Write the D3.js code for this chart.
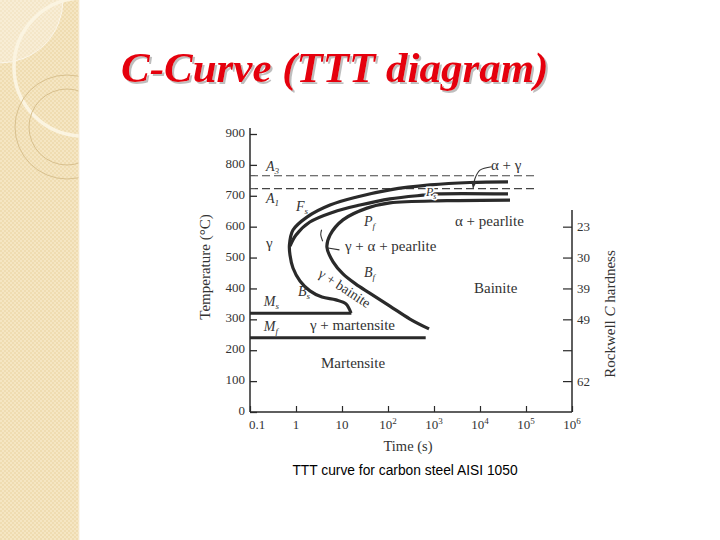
<!DOCTYPE html>
<html><head><meta charset="utf-8">
<script src="https://cdn.jsdelivr.net/npm/d3@7"></script>
<style>body{margin:0;background:#fff}svg{display:block}</style>
</head><body>
<svg id="c" width="720" height="540"></svg>
<script>
// ---------- data ----------
const slideTitle = "C-Curve (TTT diagram)";
const caption = "TTT curve for carbon steel AISI 1050";
const timeTicks = [0.1, 1, 10, 1e2, 1e3, 1e4, 1e5, 1e6];
const timeTickBase = ["0.1", "1", "10", "10", "10", "10", "10", "10"];
const timeTickExp = ["", "", "", "2", "3", "4", "5", "6"];
const tempTicks = [0, 100, 200, 300, 400, 500, 600, 700, 800, 900];
const hardnessTemps = [600, 500, 400, 300, 200, 100];
const hardnessLabels = ["23", "30", "39", "49", "", "62"];
const A3 = 765, A1 = 723, Ms = 320, Mf = 240;
const criticalEnd = 1.8e5;
const MsEnd = 16, MfEnd = 660;
// ferrite start / bainite start (outer C)
const curveFs = [[40600,745],[6000,743],[820,735],[110,719],[21,696],[5.5,670],[1.73,631],[0.86,589],[0.72,541],[0.74,508],[0.86,466],[1.22,424],[2.01,392],[3.67,372],[7.4,363],[12.2,350],[15.7,320]];
// pearlite start
const curvePs = [[40600,706],[1160,706],[577,702],[110,690],[24.6,670],[6.4,647],[2.0,615],[1.0,573],[0.74,537]];
// pearlite finish / bainite finish (inner C)
const curvePf = [[44900,686],[1920,684],[110,677],[35,660],[10.5,622],[5.5,573],[4.7,534],[6.4,486],[10.5,447],[20,414],[40,385],[110,343],[300,301],[780,269]];
const arrowAG = [[17950,794],[10000,783],[7780,756],[7100,726]];
const tickPf = [[3.6,590],[3.45,574],[3.8,553]];
const leaderGAP = [[4.96,531],[8.8,525]];
// labels: [text, subscript, time, temp, size, italic]
const labels = [
  ["A","3",0.223,780,14,true],
  ["A","1",0.223,676,14,true],
  ["F","s",1.0,651,14,true],
  ["P","f",30,602,14,true],
  ["P","s",670,699,12,true],
  ["B","s",1.1,376,14,true],
  ["B","f",30,437,14,true],
  ["M","s",0.2,343,14,true],
  ["M","f",0.2,262,14,true],
  ["γ","",0.223,531,15,false],
  ["α + γ","",17340,783,15,false],
  ["α + pearlite","",2862,602,15,false],
  ["γ + α + pearlite","",11.6,521,15,false],
  ["Bainite","",7400,385,15,false],
  ["γ + martensite","",2.01,265,15,false],
  ["Martensite","",3.49,142,15,false]
];
const rotatedLabel = ["γ + bainite", 10, 388, 33];

// ---------- drawing ----------
const svg = d3.select("#c");
const defs = svg.append("defs");
const pat = defs.append("pattern").attr("id","chk").attr("width",4).attr("height",4).attr("patternUnits","userSpaceOnUse");
pat.append("rect").attr("width",4).attr("height",4).attr("fill","#efdcb1");
pat.append("rect").attr("width",2).attr("height",2).attr("fill","#f5e6c3");
pat.append("rect").attr("x",2).attr("y",2).attr("width",2).attr("height",2).attr("fill","#f5e6c3");
defs.append("clipPath").attr("id","strip").append("rect").attr("width",79).attr("height",540);
defs.append("marker").attr("id","arr").attr("viewBox","0 0 10 10").attr("refX",9).attr("refY",5)
  .attr("markerWidth",6).attr("markerHeight",6).attr("orient","auto")
  .append("path").attr("d","M0,1 L10,5 L0,9 Z").attr("fill","#333");
const flt = defs.append("filter").attr("id","shadow").attr("x","-5%").attr("y","-20%").attr("width","110%").attr("height","140%");
flt.append("feDropShadow").attr("dx",2).attr("dy",2).attr("stdDeviation",0.6).attr("flood-color","#888").attr("flood-opacity",0.55);

svg.append("rect").attr("width",720).attr("height",540).attr("fill","#fff");
const strip = svg.append("g").attr("clip-path","url(#strip)");
strip.append("rect").attr("width",79).attr("height",540).attr("fill","url(#chk)");
strip.append("circle").attr("cx",0).attr("cy",0).attr("r",63).attr("fill","rgba(255,255,255,0.3)").attr("stroke","rgba(255,255,255,0.6)");
strip.append("circle").attr("cx",83).attr("cy",67).attr("r",69).attr("fill","none").attr("stroke","#fbf4e1").attr("stroke-width",3.5);
strip.append("circle").attr("cx",67).attr("cy",127).attr("r",52).attr("fill","none").attr("stroke","#d8c08e").attr("stroke-width",1);
strip.append("circle").attr("cx",67).attr("cy",127).attr("r",38).attr("fill","none").attr("stroke","#d8c08e").attr("stroke-width",1);
svg.append("line").attr("x1",79).attr("x2",79).attr("y1",0).attr("y2",540).attr("stroke","#f7eedb").attr("stroke-width",1);

// title
const tfont = "'Liberation Serif','Times New Roman',serif";
svg.append("text").attr("x",121).attr("y",82).text(slideTitle).attr("filter","url(#shadow)")
  .attr("font-family",tfont).attr("font-style","italic").attr("font-weight","bold").attr("font-size",43).attr("fill","#e5000c");

// scales
const x = d3.scaleLog().domain([0.1, 1e6]).range([250, 572]);
const y = d3.scaleLinear().domain([0, 900]).range([412, 134]);
const ink = "#2a2a2a", txt = "#333";
const g = svg.append("g").attr("font-family", tfont).attr("fill", txt);

// left axis
const yAxis = d3.axisRight(y).tickValues(tempTicks).tickSize(7).tickFormat(d3.format("d"));
const ya = g.append("g").attr("transform","translate(250,0)").call(yAxis);
ya.select(".domain").remove();
ya.selectAll(".tick line").attr("stroke",ink).attr("stroke-width",1.3);
ya.selectAll(".tick text").attr("x",-5).attr("dy","0.2em").attr("text-anchor","end").attr("font-size",13).attr("fill",txt).attr("font-family",tfont);
g.append("line").attr("x1",250).attr("x2",250).attr("y1",128).attr("y2",y(0)).attr("stroke",ink).attr("stroke-width",1.5);

// bottom axis
const xAxis = d3.axisTop(x).tickValues(timeTicks).tickSize(6).tickFormat("");
const xa = g.append("g").attr("transform",`translate(0,${y(0)})`).call(xAxis);
xa.select(".domain").remove();
xa.selectAll(".tick line").attr("stroke",ink).attr("stroke-width",1.2);
g.append("line").attr("x1",250).attr("x2",572).attr("y1",y(0)).attr("y2",y(0)).attr("stroke",ink).attr("stroke-width",1.5);
const xl = g.append("g").selectAll("text").data(timeTicks).join("text")
  .attr("x",(d,i)=>x(d) + (i===0 ? 7 : 0)).attr("y",y(0)+17).attr("text-anchor","middle").attr("font-size",13);
xl.append("tspan").text((d,i)=>timeTickBase[i]);
xl.append("tspan").attr("dy",-5).attr("font-size",9).text((d,i)=>timeTickExp[i]);

// right axis (hardness)
g.append("line").attr("x1",572).attr("x2",572).attr("y1",210).attr("y2",y(0)).attr("stroke",ink).attr("stroke-width",1.5);
const hr = d3.axisLeft(y).tickValues(hardnessTemps).tickSize(9).tickFormat((d,i)=>hardnessLabels[i]);
const ha = g.append("g").attr("transform","translate(572,0)").call(hr);
ha.select(".domain").remove();
ha.selectAll(".tick line").attr("stroke",ink).attr("stroke-width",1.2);
ha.selectAll(".tick text").attr("x",5).attr("text-anchor","start").attr("font-size",13).attr("fill",txt).attr("font-family",tfont);

// axis titles
g.append("text").attr("transform","translate(210,267) rotate(-90)").attr("text-anchor","middle").attr("font-size",15).text("Temperature (°C)");
const rt = g.append("text").attr("transform","translate(615,314) rotate(-90)").attr("text-anchor","middle").attr("font-size",15);
rt.append("tspan").text("Rockwell ");
rt.append("tspan").attr("font-style","italic").text("C");
rt.append("tspan").text(" hardness");
g.append("text").attr("x",408).attr("y",451).attr("text-anchor","middle").attr("font-size",14.5).text("Time (s)");

// critical temperature dashed lines
[A3, A1].forEach(T => {
  g.append("line").attr("x1",x(0.1)).attr("x2",x(criticalEnd)).attr("y1",y(T)).attr("y2",y(T))
    .attr("stroke","#444").attr("stroke-width",1.1).attr("stroke-dasharray","8,4");
});

// martensite lines
g.append("line").attr("x1",x(0.1)).attr("x2",x(MsEnd)).attr("y1",y(Ms)).attr("y2",y(Ms)).attr("stroke",ink).attr("stroke-width",3);
g.append("line").attr("x1",x(0.1)).attr("x2",x(MfEnd)).attr("y1",y(Mf)).attr("y2",y(Mf)).attr("stroke",ink).attr("stroke-width",3);

// curves
const line = d3.line().x(d=>x(d[0])).y(d=>y(d[1])).curve(d3.curveCatmullRom.alpha(0.5));
[curveFs, curvePs, curvePf].forEach(c => {
  g.append("path").attr("d", line(c)).attr("fill","none").attr("stroke",ink).attr("stroke-width",3.2).attr("stroke-linecap","butt");
});
g.append("path").attr("d", line(arrowAG)).attr("fill","none").attr("stroke","#333").attr("stroke-width",1.1).attr("marker-end","url(#arr)");
g.append("path").attr("d", line(tickPf)).attr("fill","none").attr("stroke","#333").attr("stroke-width",1.1);
g.append("path").attr("d", d3.line().x(d=>x(d[0])).y(d=>y(d[1]))(leaderGAP)).attr("fill","none").attr("stroke","#333").attr("stroke-width",1.1);

// labels
labels.forEach(([t, sub, tm, T, fs, it]) => {
  const el = g.append("text").attr("x", x(tm)).attr("y", y(T)).attr("font-size", fs)
    .attr("font-style", it ? "italic" : "normal");
  el.append("tspan").text(t);
  if (sub) el.append("tspan").attr("dy", 3).attr("font-size", fs*0.65).text(sub);
  if (t === "P" && sub === "s") el.attr("stroke","#fff").attr("stroke-width",3).attr("paint-order","stroke");
});
g.append("text").attr("transform",`translate(${x(rotatedLabel[1])},${y(rotatedLabel[2])}) rotate(${rotatedLabel[3]})`)
  .attr("text-anchor","middle").attr("font-size",14).text(rotatedLabel[0]);

// caption
svg.append("text").attr("x",405).attr("y",475).attr("text-anchor","middle")
  .attr("font-family","'Liberation Sans',Arial,sans-serif").attr("font-size",13.8).attr("fill","#000").text(caption);
</script>
</body></html>
